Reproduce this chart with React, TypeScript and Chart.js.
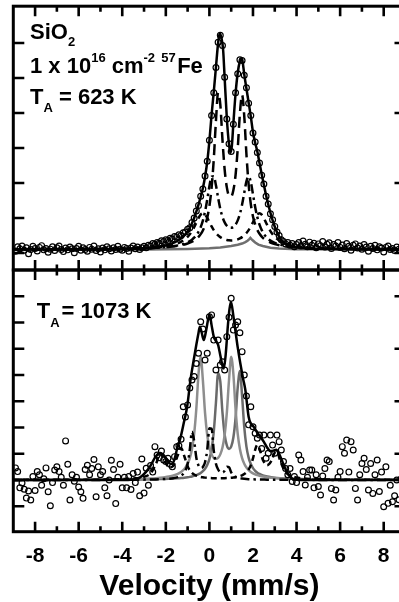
import React, { useEffect, useRef } from "react";
import { Chart, registerables } from "chart.js";

Chart.register(...registerables);

// ---------------------------------------------------------------------------
// Mössbauer spectra of 57Fe implanted in SiO2 (1e16 cm^-2), annealed at
// 623 K (upper panel) and 1073 K (lower panel). Absorption in arbitrary units.
// ---------------------------------------------------------------------------

// channel velocities, mm/s
const VELOCITY = [
  -8.9, -8.8, -8.7, -8.6, -8.5, -8.4, -8.3, -8.2, -8.1, -8.0,
  -7.9, -7.8, -7.7, -7.6, -7.5, -7.4, -7.3, -7.2, -7.1, -7.0,
  -6.9, -6.8, -6.7, -6.6, -6.5, -6.4, -6.3, -6.2, -6.1, -6.0,
  -5.9, -5.8, -5.7, -5.6, -5.5, -5.4, -5.3, -5.2, -5.1, -5.0,
  -4.9, -4.8, -4.7, -4.6, -4.5, -4.4, -4.3, -4.2, -4.1, -4.0,
  -3.9, -3.8, -3.7, -3.6, -3.5, -3.4, -3.3, -3.2, -3.1, -3.0,
  -2.9, -2.8, -2.7, -2.6, -2.5, -2.4, -2.3, -2.2, -2.1, -2.0,
  -1.9, -1.8, -1.7, -1.6, -1.5, -1.4, -1.3, -1.2, -1.1, -1.0,
  -0.9, -0.8, -0.7, -0.6, -0.5, -0.4, -0.3, -0.2, -0.1, 0.0,
  0.1, 0.2, 0.3, 0.4, 0.5, 0.6, 0.7, 0.8, 0.9, 1.0,
  1.1, 1.2, 1.3, 1.4, 1.5, 1.6, 1.7, 1.8, 1.9, 2.0,
  2.1, 2.2, 2.3, 2.4, 2.5, 2.6, 2.7, 2.8, 2.9, 3.0,
  3.1, 3.2, 3.3, 3.4, 3.5, 3.6, 3.7, 3.8, 3.9, 4.0,
  4.1, 4.2, 4.3, 4.4, 4.5, 4.6, 4.7, 4.8, 4.9, 5.0,
  5.1, 5.2, 5.3, 5.4, 5.5, 5.6, 5.7, 5.8, 5.9, 6.0,
  6.1, 6.2, 6.3, 6.4, 6.5, 6.6, 6.7, 6.8, 6.9, 7.0,
  7.1, 7.2, 7.3, 7.4, 7.5, 7.6, 7.7, 7.8, 7.9, 8.0,
  8.1, 8.2, 8.3, 8.4, 8.5, 8.6, 8.7, 8.8, 8.9,
];

// measured absorption, T_A = 623 K
const ABS_623 = [
  0.05, 0.18, 0.12, 0.2, 0.08, 0.15, -0.02, 0.1, 0.19, 0.13,
  0.06, 0.16, 0.21, 0.09, 0.13, 0.02, 0.11, 0.18, 0.07, 0.15,
  0.2, 0.1, 0.04, 0.14, 0.09, 0.17, 0.12, 0.01, 0.13, 0.19,
  0.08, 0.15, 0.1, 0.05, 0.16, 0.11, 0.2, 0.07, 0.12, 0.03,
  0.14, 0.09, 0.18, 0.12, 0.06, 0.15, 0.1, 0.19, 0.11, 0.08,
  0.16, 0.13, 0.05, 0.14, 0.2, 0.12, 0.17, 0.1, 0.15, 0.19,
  0.15, 0.22, 0.2, 0.27, 0.25, 0.3, 0.28, 0.35, 0.33, 0.38,
  0.36, 0.42, 0.4, 0.47, 0.46, 0.52, 0.5, 0.58, 0.6, 0.68,
  0.72, 0.87, 1.0, 1.2, 1.36, 1.62, 1.83, 2.2, 2.62, 3.22,
  3.93, 4.58, 5.3, 6.02, 6.22, 5.93, 5.02, 3.83, 3.12, 2.9,
  3.68, 4.58, 5.12, 5.52, 5.5, 5.08, 4.72, 4.28, 3.93, 3.43,
  3.17, 2.87, 2.57, 2.22, 1.97, 1.62, 1.4, 1.12, 0.95, 0.76,
  0.6, 0.5, 0.38, 0.33, 0.26, 0.3, 0.22, 0.27, 0.18, 0.24,
  0.3, 0.2, 0.34, 0.25, 0.18, 0.31, 0.22, 0.28, 0.15, 0.26,
  0.21, 0.33, 0.17, 0.25, 0.29, 0.13, 0.24, 0.2, 0.3, 0.16,
  0.23, 0.12, 0.27, 0.19, 0.08, 0.22, 0.26, 0.14, 0.2, 0.11,
  0.24, 0.17, 0.05, 0.19, 0.13, 0.22, 0.09, 0.18, 0.14, 0.03,
  0.16, 0.2, 0.1, 0.13, 0.07, 0.17, 0.11, 0.15, 0.06,
];

// measured absorption, T_A = 1073 K
const ABS_1073 = [
  0.46, 0.32, -0.3, -0.11, -0.35, -0.69, -0.42, -0.76, 0.13, -0.4,
  0.32, 0.2, -0.2, 0.05, 0.46, -0.45, -0.98, -0.1, 0.38, 0.5,
  0.32, 0.1, -0.2, 1.49, 0.6, -0.76, 0.2, -0.05, 0.1, -0.27,
  -0.45, -0.7, 0.4, 0.56, 0.2, 0.44, 0.78, -0.64, 0.5, 0.2,
  0.32, -0.3, -0.6, 0.0, 0.75, 0.4, -0.9, 0.1, 0.6, -0.3,
  0.1, -0.3, 0.13, -0.36, 0.25, -0.1, 0.3, -0.6, 0.8, -0.5,
  0.45, -0.2, 0.55, 0.3, 1.27, 0.95, 0.85, 1.1, 0.76, 0.7,
  0.83, 0.6, 0.5, 0.89, 1.27, 1.3, 1.55, 2.79, 2.4, 2.86,
  3.5, 3.81, 3.94, 4.44, 4.83, 6.03, 5.75, 4.57, 4.83, 6.22,
  6.29, 5.33, 4.19, 5.33, 4.38, 4.5, 4.19, 5.46, 6.2, 6.92,
  5.71, 5.9, 6.03, 5.61, 4.89, 4.0, 3.2, 2.1, 2.79, 2.03,
  1.78, 1.59, 1.71, 1.2, 1.71, 0.83, 1.02, 1.71, 1.33, 1.02,
  1.71, 1.46, 1.14, 0.7, 0.44, 0.2, 0.44, -0.06, 0.13, -0.1,
  0.95, 0.76, 0.32, -0.19, 0.1, 0.38, 0.38, -0.3, 0.2, -0.25,
  -0.57, 0.15, 0.44, 0.76, 0.7, -0.32, -0.76, -0.38, 0.1, 0.32,
  1.27, 1.02, 1.52, 0.3, 1.46, 1.14, -0.32, -0.76, 0.2, 0.63,
  0.83, 0.4, -0.38, 0.63, -0.51, 0.2, 0.76, -0.44, 0.3, -1.02,
  0.5, -0.89, -0.2, -0.83, -0.6, 0.0, -0.75, 0.05, -0.7,
];

// --- fitted envelope and sub-spectra, 623 K -------------------------------
const FIT_623_V = [
  -9, -7, -5, -4, -3.5, -3, -2.6, -2.2, -1.9, -1.6,
  -1.4, -1.2, -1.0, -0.9, -0.8, -0.7, -0.6, -0.5, -0.4, -0.3,
  -0.2, -0.1, 0, 0.1, 0.2, 0.3, 0.4, 0.47, 0.55, 0.63,
  0.7, 0.8, 0.9, 0.96, 1.03, 1.1, 1.2, 1.3, 1.4, 1.46,
  1.52, 1.6, 1.7, 1.8, 1.9, 2.0, 2.1, 2.2, 2.3, 2.4,
  2.5, 2.6, 2.8, 3.0, 3.2, 3.4, 3.7, 4.0, 4.5, 5,
  6, 7, 9,
];
const FIT_623 = [
  0.1, 0.1, 0.1, 0.11, 0.12, 0.13, 0.15, 0.19, 0.23, 0.3,
  0.37, 0.47, 0.62, 0.72, 0.85, 1.0, 1.18, 1.38, 1.6, 1.85,
  2.18, 2.6, 3.2, 3.95, 4.6, 5.3, 6.0, 6.27, 6.15, 5.8,
  5.0, 3.85, 3.1, 2.86, 3.05, 3.7, 4.55, 5.15, 5.48, 5.55,
  5.48, 5.1, 4.7, 4.3, 3.9, 3.45, 3.15, 2.9, 2.57, 2.25,
  1.95, 1.65, 1.15, 0.75, 0.47, 0.3, 0.2, 0.16, 0.13, 0.12,
  0.11, 0.1, 0.1,
];

const SUB_623_V = [
  -9, -7, -5, -4, -3.5, -3, -2.6, -2.2, -1.9, -1.6,
  -1.4, -1.2, -1.0, -0.9, -0.8, -0.7, -0.6, -0.5, -0.4, -0.3,
  -0.2, -0.1, 0, 0.1, 0.2, 0.3, 0.4, 0.5, 0.6, 0.7,
  0.8, 0.9, 1.0, 1.1, 1.2, 1.3, 1.4, 1.5, 1.6, 1.7,
  1.8, 1.9, 2.0, 2.1, 2.2, 2.3, 2.4, 2.5, 2.6, 2.8,
  3.0, 3.2, 3.4, 3.7, 4.0, 4.5, 5, 6, 7, 9,
];
// narrow doublet (long dashes)
const DOUBLET_1_623 = [
  0.105, 0.109, 0.115, 0.122, 0.128, 0.136, 0.145, 0.158, 0.172, 0.192,
  0.211, 0.236, 0.271, 0.294, 0.322, 0.358, 0.403, 0.461, 0.538, 0.643,
  0.79, 1.007, 1.338, 1.859, 2.674, 3.769, 4.579, 4.247, 3.233, 2.382,
  1.874, 1.638, 1.614, 1.792, 2.221, 2.982, 3.984, 4.519, 3.906, 2.819,
  1.958, 1.4, 1.045, 0.814, 0.658, 0.549, 0.468, 0.408, 0.362, 0.297,
  0.253, 0.223, 0.202, 0.179, 0.163, 0.145, 0.134, 0.122, 0.115, 0.108,
];
// wider-split doublet (dash-dot)
const DOUBLET_2_623 = [
  0.105, 0.108, 0.115, 0.122, 0.127, 0.136, 0.145, 0.16, 0.176, 0.2,
  0.223, 0.256, 0.305, 0.338, 0.381, 0.436, 0.509, 0.606, 0.74, 0.927,
  1.184, 1.524, 1.905, 2.181, 2.191, 1.935, 1.576, 1.26, 1.03, 0.875,
  0.779, 0.73, 0.719, 0.745, 0.813, 0.932, 1.117, 1.382, 1.72, 2.048,
  2.188, 2.028, 1.677, 1.316, 1.025, 0.81, 0.656, 0.545, 0.463, 0.353,
  0.287, 0.244, 0.214, 0.186, 0.166, 0.146, 0.134, 0.121, 0.114, 0.108,
];
// broad doublet (short dashes)
const DOUBLET_3_623 = [
  0.105, 0.108, 0.116, 0.124, 0.131, 0.142, 0.155, 0.177, 0.203, 0.245,
  0.289, 0.356, 0.46, 0.534, 0.625, 0.737, 0.864, 0.993, 1.095, 1.136,
  1.1, 1.004, 0.88, 0.759, 0.654, 0.569, 0.503, 0.453, 0.416, 0.389,
  0.371, 0.361, 0.358, 0.361, 0.371, 0.389, 0.416, 0.453, 0.503, 0.569,
  0.654, 0.759, 0.88, 1.004, 1.1, 1.136, 1.095, 0.993, 0.864, 0.625,
  0.46, 0.356, 0.289, 0.228, 0.193, 0.16, 0.142, 0.124, 0.116, 0.108,
];
// weak singlet (grey)
const SINGLET_623_V = [
  -9, -3, -2, -1, 0, 0.5, 1.0, 1.3, 1.5, 1.65, 1.75, 1.82,
  1.88, 1.94, 2.01, 2.1, 2.25, 2.45, 2.8, 3.2, 4, 5, 9,
];
const SINGLET_623 = [
  0.1, 0.1, 0.105, 0.115, 0.135, 0.16, 0.2, 0.235, 0.27, 0.31, 0.35, 0.39,
  0.43, 0.39, 0.35, 0.3, 0.24, 0.2, 0.15, 0.125, 0.11, 0.105, 0.1,
];

// --- fitted envelope and sub-spectra, 1073 K ------------------------------
const FIT_1073_V = [
  -9, -4, -3.5, -3.3, -3.1, -2.9, -2.7, -2.5, -2.35, -2.24,
  -2.1, -1.95, -1.8, -1.7, -1.6, -1.48, -1.33, -1.18, -1.02, -0.87,
  -0.72, -0.6, -0.5, -0.44, -0.35, -0.26, -0.15, -0.05, 0.01, 0.1,
  0.2, 0.3, 0.4, 0.5, 0.6, 0.66, 0.75, 0.85, 0.92, 0.99,
  1.1, 1.19, 1.3, 1.42, 1.55, 1.65, 1.8, 1.9, 2.03, 2.2,
  2.34, 2.5, 2.64, 2.8, 2.95, 3.07, 3.2, 3.35, 3.5, 3.7,
  3.9, 4.5, 9,
];
const FIT_1073 = [
  0, 0, 0.02, 0.05, 0.15, 0.32, 0.55, 0.85, 1.0, 1.02,
  0.95, 0.78, 0.62, 0.62, 0.8, 1.2, 1.6, 2.16, 2.8, 3.8,
  4.57, 5.15, 5.6, 5.84, 5.6, 5.33, 5.7, 6.15, 6.29, 5.9,
  5.46, 5.3, 5.15, 4.75, 4.35, 4.25, 4.8, 5.9, 6.5, 6.79,
  6.25, 5.71, 5.05, 4.44, 3.85, 3.43, 2.41, 2.15, 2.03, 1.8,
  1.65, 1.45, 1.25, 1.1, 1.12, 1.15, 1.0, 0.7, 0.4, 0.12,
  0.02, 0, 0,
];

const SUB_1073_V = [
  -9, -6, -4, -3.4, -3.0, -2.7, -2.45, -2.25, -2.05, -1.85,
  -1.65, -1.45, -1.3, -1.15, -1.0, -0.9, -0.8, -0.7, -0.6, -0.5,
  -0.4, -0.3, -0.2, -0.1, 0, 0.1, 0.2, 0.3, 0.4, 0.5,
  0.6, 0.7, 0.8, 0.9, 1.0, 1.1, 1.2, 1.3, 1.4, 1.5,
  1.6, 1.7, 1.8, 1.9, 2.0, 2.1, 2.2, 2.3, 2.45, 2.65,
  2.85, 3.0, 3.1, 3.25, 3.45, 3.7, 4.0, 5, 7, 9,
];
// doublet, light grey
const DOUBLET_1_1073 = [
  0.005, 0.012, 0.026, 0.036, 0.047, 0.058, 0.071, 0.086, 0.105, 0.132,
  0.171, 0.234, 0.306, 0.421, 0.616, 0.832, 1.178, 1.754, 2.718, 4.038,
  4.699, 3.806, 2.554, 1.715, 1.237, 0.976, 0.845, 0.806, 0.845, 0.976,
  1.237, 1.715, 2.554, 3.806, 4.699, 4.038, 2.718, 1.754, 1.178, 0.832,
  0.616, 0.473, 0.376, 0.306, 0.255, 0.215, 0.184, 0.16, 0.132, 0.105,
  0.086, 0.075, 0.068, 0.061, 0.052, 0.044, 0.036, 0.022, 0.01, 0.006,
];
// doublet, dark grey
const DOUBLET_2_1073 = [
  0.003, 0.007, 0.014, 0.018, 0.022, 0.026, 0.03, 0.034, 0.039, 0.046,
  0.054, 0.064, 0.075, 0.088, 0.105, 0.119, 0.136, 0.158, 0.186, 0.221,
  0.269, 0.335, 0.428, 0.57, 0.793, 1.169, 1.834, 2.942, 4.069, 3.755,
  2.563, 1.727, 1.317, 1.184, 1.271, 1.618, 2.356, 3.527, 4.153, 3.206,
  2.016, 1.273, 0.853, 0.606, 0.452, 0.351, 0.28, 0.229, 0.176, 0.13,
  0.101, 0.085, 0.076, 0.066, 0.055, 0.045, 0.036, 0.02, 0.009, 0.005,
];
// dash-dot component
const COMPONENT_3_1073 = [
  0.001, 0.003, 0.007, 0.011, 0.014, 0.018, 0.023, 0.029, 0.037, 0.049,
  0.07, 0.109, 0.166, 0.289, 0.616, 1.153, 1.836, 1.487, 0.849, 0.553,
  0.459, 0.494, 0.678, 1.145, 1.968, 1.958, 1.114, 0.621, 0.4, 0.304,
  0.286, 0.349, 0.502, 0.483, 0.289, 0.172, 0.115, 0.084, 0.065, 0.053,
  0.044, 0.037, 0.032, 0.028, 0.025, 0.022, 0.02, 0.018, 0.016, 0.013,
  0.011, 0.01, 0.01, 0.009, 0.008, 0.007, 0.006, 0.004, 0.002, 0.001,
];
// magnetic-like outer lines (short dashes)
const COMPONENT_4_1073 = [
  0.004, 0.009, 0.032, 0.062, 0.122, 0.257, 0.614, 1.029, 0.724, 0.481,
  0.542, 0.941, 1.222, 0.904, 0.52, 0.367, 0.271, 0.208, 0.166, 0.137,
  0.116, 0.101, 0.09, 0.082, 0.075, 0.071, 0.068, 0.066, 0.065, 0.066,
  0.067, 0.069, 0.073, 0.078, 0.085, 0.095, 0.107, 0.124, 0.147, 0.179,
  0.226, 0.294, 0.399, 0.566, 0.824, 1.15, 1.335, 1.182, 0.773, 0.564,
  0.732, 1.045, 1.081, 0.732, 0.355, 0.175, 0.095, 0.029, 0.009, 0.005,
];

// axis ticks
const X_MAJOR = [-8, -6, -4, -2, 0, 2, 4, 6, 8];
const X_MINOR = [-7, -5, -3, -1, 1, 3, 5, 7];
const Y_LEFT_623 = [0, 1, 2, 3, 4, 5, 6];
const Y_RIGHT_623 = [0, 2, 4, 6];
const Y_LEFT_1073 = [-1, 0, 1, 2, 3, 4, 5, 6, 7];
const Y_RIGHT_1073 = [-1, 1, 3, 5, 7];

// ---------------------------------------------------------------------------
const FONT = '"Liberation Sans", Arial, Helvetica, sans-serif';
const CANVAS_W = 420;
const CANVAS_H = 602;
const AREA_LEFT = 13.3;
const AREA_RIGHT = 405.5;
const AREA_TOP = 6.2;
const PANEL_SPLIT = 270;
const AREA_BOTTOM = 531.7;

type Pt = { x: number; y: number };
const pts = (xs: number[], ys: number[]): Pt[] => xs.map((x, i) => ({ x, y: ys[i] }));

const markers = (data: Pt[]) => ({
  data,
  showLine: false,
  pointStyle: "circle",
  pointRadius: 2.9,
  pointBorderWidth: 1.2,
  pointBorderColor: "#000",
  pointBackgroundColor: "rgba(255,255,255,0)",
});

const curve = (data: Pt[], color: string, dash: number[] = [], smooth = true) => ({
  data,
  showLine: true,
  borderColor: color,
  borderWidth: 2.5,
  borderDash: dash,
  borderCapStyle: "butt",
  pointRadius: 0,
  fill: false,
  tension: smooth ? 0.4 : 0,
  cubicInterpolationMode: smooth ? "monotone" : "default",
});

type Run = { text: string; size: number; rise?: number; dx?: number };
const drawRuns = (ctx: CanvasRenderingContext2D, x: number, baseline: number, runs: Run[]) => {
  let cx = x;
  ctx.fillStyle = "#000";
  ctx.textBaseline = "alphabetic";
  ctx.textAlign = "left";
  for (const r of runs) {
    cx += r.dx ?? 0;
    ctx.font = `bold ${r.size}px ${FONT}`;
    ctx.fillText(r.text, cx, baseline - (r.rise ?? 0));
    cx += ctx.measureText(r.text).width;
  }
};

// Frame with inward ticks on every edge of a panel, plus its annotation text.
const panelPlugin = (leftTicks: number[], rightTicks: number[], lines: { x: number; y: number; runs: Run[] }[]) => ({
  id: "panelFrame",
  afterDraw(chart: any) {
    const { ctx, chartArea: a, scales } = chart;
    const xs = scales.x;
    const ys = scales.y;
    ctx.save();
    ctx.strokeStyle = "#000";
    ctx.lineCap = "butt";
    ctx.lineWidth = 2.6;
    ctx.beginPath();
    const hTick = (v: number, len: number) => {
      const px = xs.getPixelForValue(v);
      ctx.moveTo(px, a.top);
      ctx.lineTo(px, a.top + len);
      ctx.moveTo(px, a.bottom);
      ctx.lineTo(px, a.bottom - len);
    };
    X_MAJOR.forEach((v) => hTick(v, 10));
    X_MINOR.forEach((v) => hTick(v, 5.5));
    leftTicks.forEach((v) => {
      const py = ys.getPixelForValue(v);
      ctx.moveTo(a.left, py);
      ctx.lineTo(a.left + 11, py);
    });
    rightTicks.forEach((v) => {
      const py = ys.getPixelForValue(v);
      ctx.moveTo(a.right, py);
      ctx.lineTo(a.right - 11, py);
    });
    ctx.stroke();
    ctx.lineWidth = 3;
    ctx.lineJoin = "miter";
    ctx.strokeRect(a.left, a.top, a.right - a.left, a.bottom - a.top);
    for (const l of lines) drawRuns(ctx, l.x, l.y, l.runs);
    ctx.restore();
  },
});

const TOP_TEXT = [
  { x: 30, y: 38.5, runs: [{ text: "SiO", size: 22 }, { text: "2", size: 13, rise: -7.5 }] },
  {
    x: 30,
    y: 73.3,
    runs: [
      { text: "1 x 10", size: 22 },
      { text: "16", size: 13, rise: 11.6 },
      { text: " cm", size: 22 },
      { text: "-2", size: 13, rise: 11.6 },
      { text: " ", size: 22 },
      { text: "57", size: 13, rise: 11.6 },
      { text: "Fe", size: 22, dx: 1.5 },
    ],
  },
  {
    x: 30,
    y: 104,
    runs: [{ text: "T", size: 22 }, { text: "A", size: 13, rise: -7.5 }, { text: " = 623 K", size: 22 }],
  },
];

const BOTTOM_TEXT = [
  {
    x: 36.7,
    y: 318,
    runs: [{ text: "T", size: 22 }, { text: "A", size: 13, rise: -9 }, { text: "= 1073 K", size: 22, dx: 2 }],
  },
];

const baseOptions = {
  responsive: false,
  animation: false as const,
  devicePixelRatio: 1,
  events: [] as any[],
  plugins: { legend: { display: false }, tooltip: { enabled: false } },
};

export default function App() {
  const topRef = useRef<HTMLCanvasElement>(null);
  const bottomRef = useRef<HTMLCanvasElement>(null);

  useEffect(() => {
    if (!topRef.current || !bottomRef.current) return;

    const top = new Chart(topRef.current, {
      type: "line",
      data: {
        datasets: [
          markers(pts(VELOCITY, ABS_623)),
          curve(pts(FIT_623_V, FIT_623), "#000"),
          curve(pts(SUB_623_V, DOUBLET_1_623), "#000", [11, 6]),
          curve(pts(SUB_623_V, DOUBLET_2_623), "#000", [9, 4, 2.5, 4]),
          curve(pts(SUB_623_V, DOUBLET_3_623), "#000", [6, 5]),
          curve(pts(SINGLET_623_V, SINGLET_623), "#6f6f6f", [], false),
        ] as any,
      },
      options: {
        ...baseOptions,
        layout: {
          padding: { left: AREA_LEFT, right: CANVAS_W - AREA_RIGHT, top: AREA_TOP, bottom: CANVAS_H - PANEL_SPLIT },
        },
        scales: {
          x: { type: "linear", min: -9, max: 9, display: false },
          y: { type: "linear", min: -0.486, max: 7.051, display: false },
        },
      } as any,
      plugins: [panelPlugin(Y_LEFT_623, Y_RIGHT_623, TOP_TEXT)],
    });

    const bottom = new Chart(bottomRef.current, {
      type: "line",
      data: {
        datasets: [
          markers(pts(VELOCITY, ABS_1073)),
          curve(pts(FIT_1073_V, FIT_1073), "#000"),
          curve(pts(SUB_1073_V, COMPONENT_3_1073), "#000", [9, 4, 2.5, 4]),
          curve(pts(SUB_1073_V, COMPONENT_4_1073), "#000", [6, 4]),
          curve(pts(SUB_1073_V, DOUBLET_1_1073), "#8e8e8e"),
          curve(pts(SUB_1073_V, DOUBLET_2_1073), "#6a6a6a"),
        ] as any,
      },
      options: {
        ...baseOptions,
        layout: {
          padding: { left: AREA_LEFT, right: CANVAS_W - AREA_RIGHT, top: PANEL_SPLIT, bottom: 0 },
        },
        scales: {
          x: {
            type: "linear",
            min: -9,
            max: 9,
            display: true,
            border: { display: false },
            grid: { display: false, drawTicks: false, drawOnChartArea: false },
            afterBuildTicks: (s: any) => {
              s.ticks = X_MAJOR.map((v) => ({ value: v }));
            },
            afterFit: (s: any) => {
              s.height = CANVAS_H - AREA_BOTTOM;
            },
            ticks: {
              autoSkip: false,
              maxRotation: 0,
              padding: 12,
              color: "#000",
              font: { family: FONT, size: 21, weight: "bold" },
              callback: (v: any) => String(v),
            },
            title: {
              display: true,
              text: "Velocity (mm/s)",
              color: "#000",
              font: { family: FONT, size: 30, weight: "bold", lineHeight: 1 },
              padding: { top: 0, bottom: 0 },
            },
          },
          y: { type: "linear", min: -1.97, max: 8.0, display: false },
        },
      } as any,
      plugins: [panelPlugin(Y_LEFT_1073, Y_RIGHT_1073, BOTTOM_TEXT)],
    });

    return () => {
      top.destroy();
      bottom.destroy();
    };
  }, []);

  const canvasStyle: React.CSSProperties = {
    position: "absolute",
    left: 0,
    top: 0,
    width: CANVAS_W,
    height: CANVAS_H,
  };

  return (
    <div
      style={{
        position: "fixed",
        left: 0,
        top: 0,
        width: 399,
        height: 602,
        overflow: "hidden",
        background: "#fff",
      }}
    >
      <canvas ref={topRef} width={CANVAS_W} height={CANVAS_H} style={canvasStyle} />
      <canvas ref={bottomRef} width={CANVAS_W} height={CANVAS_H} style={canvasStyle} />
    </div>
  );
}
